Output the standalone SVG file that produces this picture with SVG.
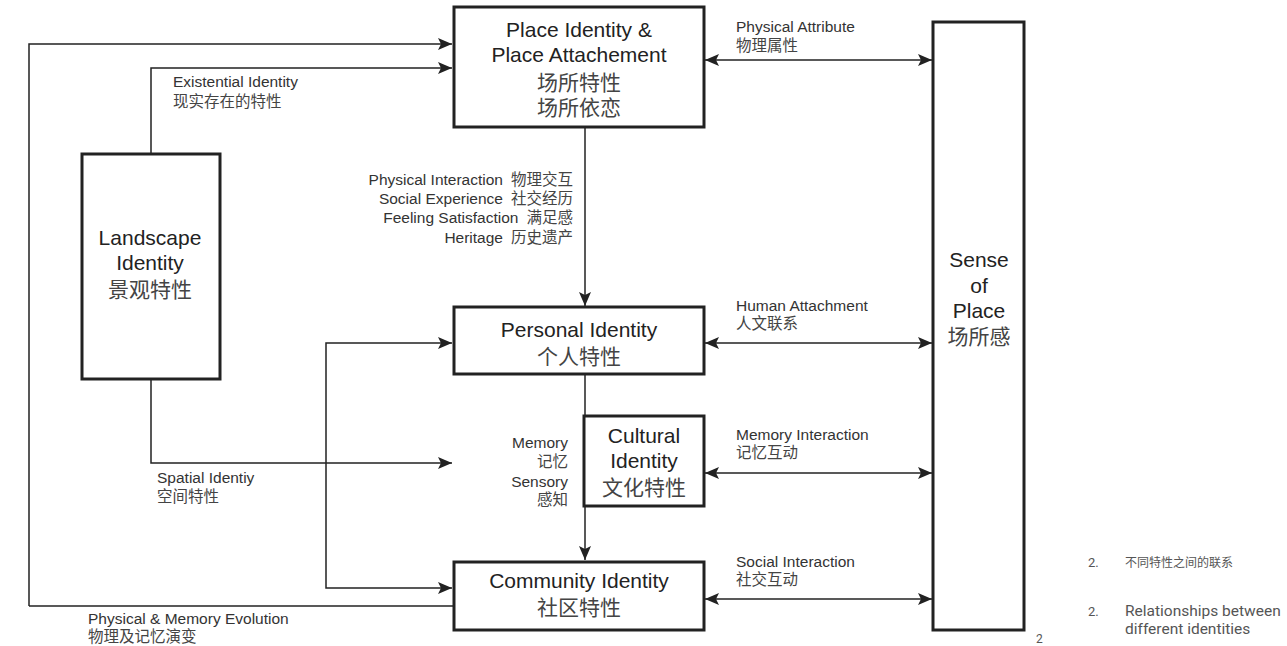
<svg xmlns="http://www.w3.org/2000/svg" width="1287" height="646" viewBox="0 0 1287 646">
<style>
.box{fill:#fff;stroke:#222;stroke-width:3}
.ln{fill:none;stroke:#222;stroke-width:1.5}
.nt{font-family:"Liberation Sans","Noto Sans CJK SC",sans-serif;font-size:21px;fill:#222;text-anchor:middle}
.lb{font-family:"Liberation Sans","Noto Sans CJK SC",sans-serif;font-size:15.5px;fill:#333}
.zh{fill:#444}
.r{text-anchor:end}
.fn{font-family:"Roboto","Noto Sans CJK SC",sans-serif;font-size:15.5px;fill:#555}
.fz{font-family:"Noto Sans CJK SC",sans-serif;font-size:12px;fill:#555}
</style>
<defs>
<marker id="ah" viewBox="0 0 14 12" refX="14" refY="6" markerWidth="14" markerHeight="12" markerUnits="userSpaceOnUse" orient="auto-start-reverse">
<path d="M0,0 L14,6 L0,12 L3,6 z" fill="#222"/>
</marker>
</defs>
<g id="connectors">
<path class="ln" d="M29,606 L29,44 L452,44" marker-end="url(#ah)"/>
<path class="ln" d="M29,606 L453,606"/>
<path class="ln" d="M151,154 L151,68 L452,68" marker-end="url(#ah)"/>
<path class="ln" d="M151,379 L151,463 L452,463" marker-end="url(#ah)"/>
<path class="ln" d="M452,343 L326,343 L326,588 L452,588" marker-start="url(#ah)" marker-end="url(#ah)"/>
<path class="ln" d="M585,127 L585,306" marker-end="url(#ah)"/>
<path class="ln" d="M585,374 L585,560" marker-end="url(#ah)"/>
<path class="ln" d="M705,60 L932,60" marker-start="url(#ah)" marker-end="url(#ah)"/>
<path class="ln" d="M705,343 L932,343" marker-start="url(#ah)" marker-end="url(#ah)"/>
<path class="ln" d="M705,473 L932,473" marker-start="url(#ah)" marker-end="url(#ah)"/>
<path class="ln" d="M705,599 L932,599" marker-start="url(#ah)" marker-end="url(#ah)"/>
<text class="lb" x="173" y="87">Existential Identity</text>
<text class="lb zh" x="173" y="107">现实存在的特性</text>
<text class="lb" x="736" y="32">Physical Attribute</text>
<text class="lb zh" x="736" y="51">物理属性</text>
<text class="lb r" x="573" y="185">Physical Interaction<tspan class="zh" dx="8">物理交互</tspan></text>
<text class="lb r" x="573" y="204">Social Experience<tspan class="zh" dx="8">社交经历</tspan></text>
<text class="lb r" x="573" y="223">Feeling Satisfaction<tspan class="zh" dx="8">满足感</tspan></text>
<text class="lb r" x="573" y="243">Heritage<tspan class="zh" dx="8">历史遗产</tspan></text>
<text class="lb" x="736" y="311">Human Attachment</text>
<text class="lb zh" x="736" y="329">人文联系</text>
<text class="lb r" x="568" y="448">Memory</text>
<text class="lb r zh" x="568" y="467">记忆</text>
<text class="lb r" x="568" y="487">Sensory</text>
<text class="lb r zh" x="568" y="505">感知</text>
<text class="lb" x="736" y="440">Memory Interaction</text>
<text class="lb zh" x="736" y="458">记忆互动</text>
<text class="lb" x="157" y="483">Spatial Identiy</text>
<text class="lb zh" x="157" y="502">空间特性</text>
<text class="lb" x="736" y="567">Social Interaction</text>
<text class="lb zh" x="736" y="585">社交互动</text>
<text class="lb" x="88" y="624">Physical &amp; Memory Evolution</text>
<text class="lb zh" x="88" y="642">物理及记忆演变</text>
</g>
<g id="place-identity">
<rect class="box" x="454" y="7" width="250" height="120"/>
<text class="nt" x="579" y="37">Place Identity &amp;</text>
<text class="nt" x="579" y="62">Place Attachement</text>
<text class="nt zh" x="579" y="90">场所特性</text>
<text class="nt zh" x="579" y="115">场所依恋</text>
</g>
<g id="landscape-identity">
<rect class="box" x="82" y="154" width="138" height="225"/>
<text class="nt" x="150" y="245">Landscape</text>
<text class="nt" x="150" y="270">Identity</text>
<text class="nt zh" x="150" y="297">景观特性</text>
</g>
<g id="personal-identity">
<rect class="box" x="454" y="307" width="250" height="67"/>
<text class="nt" x="579" y="337">Personal Identity</text>
<text class="nt zh" x="579" y="364">个人特性</text>
</g>
<g id="cultural-identity">
<rect class="box" x="584" y="416" width="120" height="90"/>
<text class="nt" x="644" y="443">Cultural</text>
<text class="nt" x="644" y="468">Identity</text>
<text class="nt zh" x="644" y="495">文化特性</text>
</g>
<g id="community-identity">
<rect class="box" x="454" y="562" width="250" height="68"/>
<text class="nt" x="579" y="588">Community Identity</text>
<text class="nt zh" x="579" y="615">社区特性</text>
</g>
<g id="sense-of-place">
<rect class="box" x="933" y="22" width="91" height="608"/>
<text class="nt" x="979" y="267">Sense</text>
<text class="nt" x="979" y="293">of</text>
<text class="nt" x="979" y="318">Place</text>
<text class="nt zh" x="979" y="344">场所感</text>
</g>
<g id="notes">
<text class="fn" x="1036" y="643" style="font-size:12px">2</text>
<text class="fn" x="1088" y="567" style="font-size:13px">2.</text>
<text class="fz" x="1125" y="567">不同特性之间的联系</text>
<text class="fn" x="1088" y="616" style="font-size:13px">2.</text>
<text class="fn" x="1125" y="616">Relationships between</text>
<text class="fn" x="1125" y="634">different identities</text>
</g>
</svg>
